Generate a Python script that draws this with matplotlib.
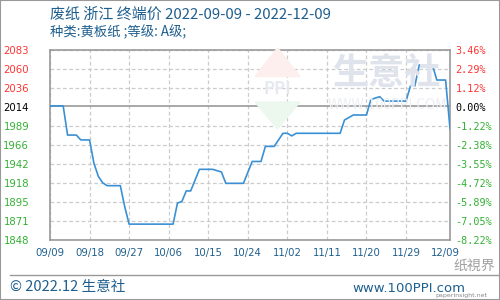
import matplotlib
matplotlib.use("Agg")
import matplotlib.pyplot as plt
from matplotlib.patches import Rectangle, Polygon
import pandas as pd

plt.rcParams['font.family'] = ['Noto Sans CJK SC', 'DejaVu Sans']

# 价格数据 (元/吨)
datas = ['2022-09-09', '2022-09-12', '2022-09-13', '2022-09-15', '2022-09-16', '2022-09-18',
         '2022-09-19', '2022-09-20', '2022-09-21', '2022-09-22', '2022-09-25', '2022-09-26',
         '2022-09-27', '2022-10-07', '2022-10-08', '2022-10-09', '2022-10-10', '2022-10-11',
         '2022-10-13', '2022-10-16', '2022-10-18', '2022-10-19', '2022-10-23', '2022-10-25',
         '2022-10-27', '2022-10-28', '2022-10-30', '2022-11-01', '2022-11-02', '2022-11-03',
         '2022-11-04', '2022-11-14', '2022-11-15', '2022-11-17', '2022-11-20', '2022-11-21',
         '2022-11-23', '2022-11-24', '2022-11-29', '2022-11-30', '2022-12-01', '2022-12-02',
         '2022-12-05', '2022-12-06', '2022-12-08', '2022-12-09']
precos = [2014, 2014, 1978, 1978, 1972, 1972,
          1943, 1927, 1919, 1915.5, 1915.5, 1889.5,
          1868, 1868, 1894, 1896, 1909, 1909,
          1935.7, 1935.7, 1932.4, 1918.4, 1918.4, 1945.4,
          1945.4, 1964, 1964, 1980.2, 1980.2, 1977,
          1980.2, 1980.2, 1996.6, 2002.8, 2002.8, 2022,
          2025.4, 2020, 2020, 2038.6, 2038.6, 2064.6,
          2064.6, 2046, 2046, 1986]

rotulos_x = ['09/09', '09/18', '09/27', '10/06', '10/15', '10/24',
             '11/02', '11/11', '11/20', '11/29', '12/09']
rotulos_esq = ['2083', '2060', '2036', '2014', '1989', '1966',
               '1942', '1918', '1895', '1871', '1848']
rotulos_dir = ['3.46%', '2.29%', '1.12%', '0.00%', '-1.22%', '-2.38%',
               '-3.55%', '-4.72%', '-5.89%', '-7.05%', '-8.22%']
base = 2014
y_min, y_max = 1848.4, 2083.7

inicio = pd.Timestamp(datas[0])
dias = [(pd.Timestamp(d) - inicio).days for d in datas]
dia_fim = dias[-1]

azul_txt = '#1f5f8e'
vermelho = '#ff3333'
verde = '#33b033'

fig = plt.figure(figsize=(5, 3), dpi=100)
ax = fig.add_axes([0.1, 0.2, 0.8, 0.635])

# marcas d'agua
fig.text(0.775, 0.755, '生意社', fontsize=26, color='#dfe3ec', ha='center', va='center',
         fontweight='bold', zorder=0)
fig.text(0.775, 0.65, 'WWW.100PPI.COM', fontsize=10, color='#eceef2', ha='center',
         va='center', zorder=0)
fig.patches.append(Polygon([[0.51, 0.745], [0.555, 0.84], [0.60, 0.745]], closed=True,
                           transform=fig.transFigure, color='#fcefed', zorder=0))
fig.patches.append(Polygon([[0.51, 0.66], [0.555, 0.57], [0.60, 0.66]], closed=True,
                           transform=fig.transFigure, color='#ecf7ee', zorder=0))
fig.text(0.555, 0.705, 'PPI', fontsize=12, color='#e6e9f0', ha='center', va='center',
         fontweight='bold', zorder=0)
ax.patch.set_alpha(0)

ax.plot(dias, precos, color='#3a90d4', lw=1.2, zorder=3)
ax.axhline(base, color='#999999', lw=1.2, zorder=2)

ax.set_xlim(0, dia_fim)
ax.set_ylim(y_min, y_max)

pos_x = [9 * i for i in range(10)] + [dia_fim - 1]
ax.set_xticks(pos_x)
ax.set_xticklabels(rotulos_x, fontsize=7.3, color=azul_txt, family='DejaVu Sans')
passo = (y_max - y_min) / 10
pos_y = [y_max - passo * i for i in range(11)]
ax.set_yticks(pos_y)
ax.set_yticklabels(rotulos_esq, fontsize=7.3, family='DejaVu Sans')
for i, t in enumerate(ax.get_yticklabels()):
    t.set_color(vermelho if i < 3 else ('black' if i == 3 else verde))

ax.tick_params(length=0)
ax.tick_params(axis='y', pad=15)
ax.tick_params(axis='x', pad=6)
ax.grid(True, ls=(0, (3, 2)), color='#cccccc', lw=0.9)
ax.get_xgridlines()[-1].set_visible(False)
ax.get_ygridlines()[3].set_visible(False)
for s in ax.spines.values():
    s.set_color('#999999')
    s.set_linewidth(1.2)

ax2 = ax.twinx()
ax2.set_ylim(y_min, y_max)
ax2.set_yticks(pos_y)
ax2.set_yticklabels(rotulos_dir, fontsize=7.3, family='DejaVu Sans Mono')
for i, t in enumerate(ax2.get_yticklabels()):
    t.set_color(vermelho if i < 3 else ('black' if i == 3 else verde))
ax2.tick_params(length=0, pad=4)
for s in ax2.spines.values():
    s.set_visible(False)

fig.text(0.1, 0.95, '废纸 浙江 终端价 2022-09-09 - 2022-12-09', fontsize=10.8,
         color=azul_txt, va='center')
fig.text(0.1, 0.893, '种类:黄板纸 ;等级: A级;', fontsize=9.6, color=azul_txt, va='center')

# rodape
fig.add_artist(plt.Line2D([0.02, 1.0], [0.082, 0.082], color='#999999', lw=1,
                          transform=fig.transFigure))
fig.text(0.02, 0.043, '© 2022.12 生意社', fontsize=10.5, color=azul_txt, va='center')
fig.text(0.93, 0.04, 'www.100PPI.com', fontsize=9.5, color=azul_txt, va='center',
         ha='right', family='DejaVu Sans')
fig.text(0.99, 0.115, '纸視界', fontsize=10, color='#a0a0a0', va='center', ha='right',
         style='italic')
fig.text(0.975, 0.005, 'paperinsight.net', fontsize=4.5, color='#888888', va='bottom',
         ha='right', family='DejaVu Sans')

fig.patches.append(Rectangle((0, 0), 1, 1, transform=fig.transFigure, fill=False,
                             edgecolor='#999999', lw=1.5))

fig.savefig('out.png', dpi=100)
